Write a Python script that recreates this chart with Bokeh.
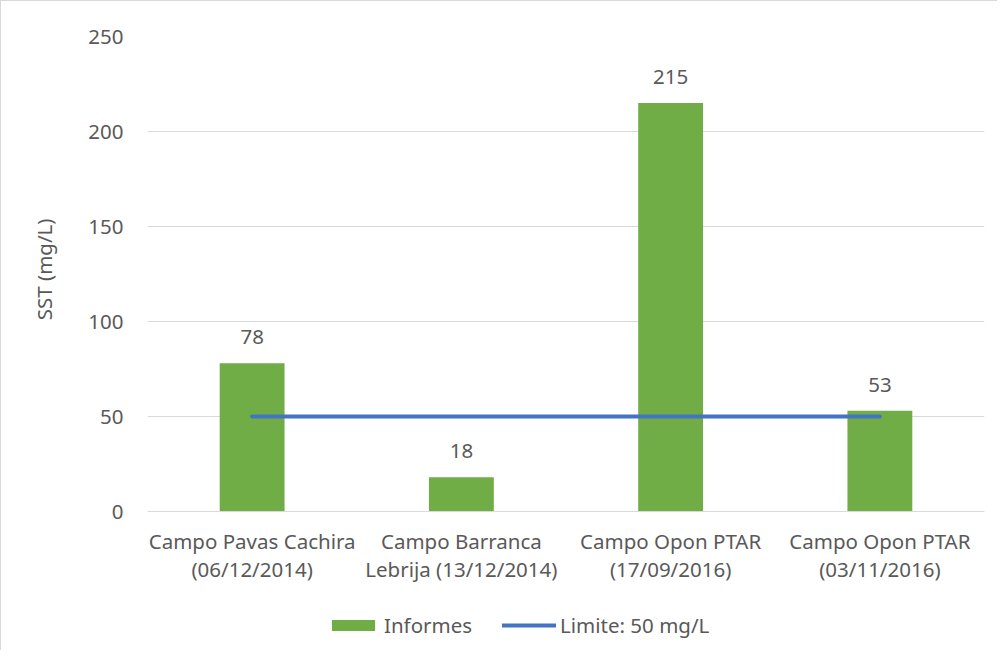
from bokeh.plotting import figure
from bokeh.models import (FactorRange, Range1d, FixedTicker, ColumnDataSource,
                          Legend, LegendItem, Title)
from bokeh.core.properties import value
from bokeh.embed import file_html
from bokeh.resources import INLINE

categories = ["Campo Pavas Cachira\n(06/12/2014)",
              "Campo Barranca\nLebrija (13/12/2014)",
              "Campo Opon PTAR\n(17/09/2016)",
              "Campo Opon PTAR\n(03/11/2016)"]
informes = [78, 18, 215, 53]
limite = [50, 50, 50, 50]
y_ticks = [0, 50, 100, 150, 200, 250]

FONT = "Noto Sans"
TXT = "#595959"
FS = "20.5px"

# layout: value axis 0..250 spans 475 px; frame extends below 0 to host labels and legend
AXIS_PX = 475
FRAME_H = 610
y_top = y_ticks[-1]
y_bottom = -(FRAME_H - AXIS_PX) * y_top / AXIS_PX

src = ColumnDataSource(dict(cat=categories, val=informes, lim=limite,
                            lab=[str(v) for v in informes]))

p = figure(x_range=FactorRange(*categories, range_padding=0),
           y_range=Range1d(y_bottom, y_top),
           frame_width=837, frame_height=FRAME_H,
           output_backend="svg", toolbar_location=None,
           min_border_left=145, min_border_top=35,
           min_border_right=13, min_border_bottom=4)
p.styles = {"border-left": "1px solid #d9d9d9", "border-top": "1px solid #d9d9d9"}
p.outline_line_color = None

bars = p.vbar(x="cat", top="val", width=0.31, source=src,
              fill_color="#70AD47", line_color=None)
ln = p.line(x="cat", y="lim", source=src, line_color="#4472C4",
            line_width=4, line_cap="round")
p.text(x="cat", y="val", text="lab", source=src, y_offset=-26,
       text_align="center", text_baseline="middle",
       text_font=value(FONT), text_font_size=FS, text_color=TXT)

p.xgrid.visible = False
p.ygrid.grid_line_color = "#d9d9d9"
p.ygrid.grid_line_width = 1

p.yaxis.ticker = FixedTicker(ticks=y_ticks)
p.yaxis.axis_line_color = None
p.yaxis.major_tick_line_color = None
p.yaxis.minor_tick_line_color = None
p.yaxis.major_label_standoff = 18

p.xaxis.fixed_location = 0
p.xaxis.axis_line_color = "#d9d9d9"
p.xaxis.major_tick_line_color = None
p.xaxis.minor_tick_line_color = None
p.xaxis.major_tick_out = 0
p.xaxis.major_tick_in = 0
p.xaxis.major_label_standoff = 15
p.xaxis.major_label_text_line_height = 1.0

for ax in (p.xaxis[0], p.yaxis[0]):
    ax.major_label_text_font = FONT
    ax.major_label_text_font_size = FS
    ax.major_label_text_color = TXT

ylabel = Title(text="SST (mg/L)", align="right", offset=182,
               vertical_align="middle", standoff=54,
               text_font=FONT, text_font_size=FS, text_color=TXT,
               text_font_style="normal")
p.add_layout(ylabel, "left")

legend = Legend(items=[LegendItem(label="Informes", renderers=[bars]),
                       LegendItem(label="Limite: 50 mg/L", renderers=[ln])],
                orientation="horizontal", location=(179, 7),
                padding=0, margin=0, spacing=30, label_standoff=4,
                glyph_width=54, glyph_height=14,
                label_text_font=FONT, label_text_font_size=FS,
                label_text_color=TXT, background_fill_alpha=0,
                border_line_color=None)
p.add_layout(legend, "center")

open("out.html", "w").write(file_html(p, INLINE))
